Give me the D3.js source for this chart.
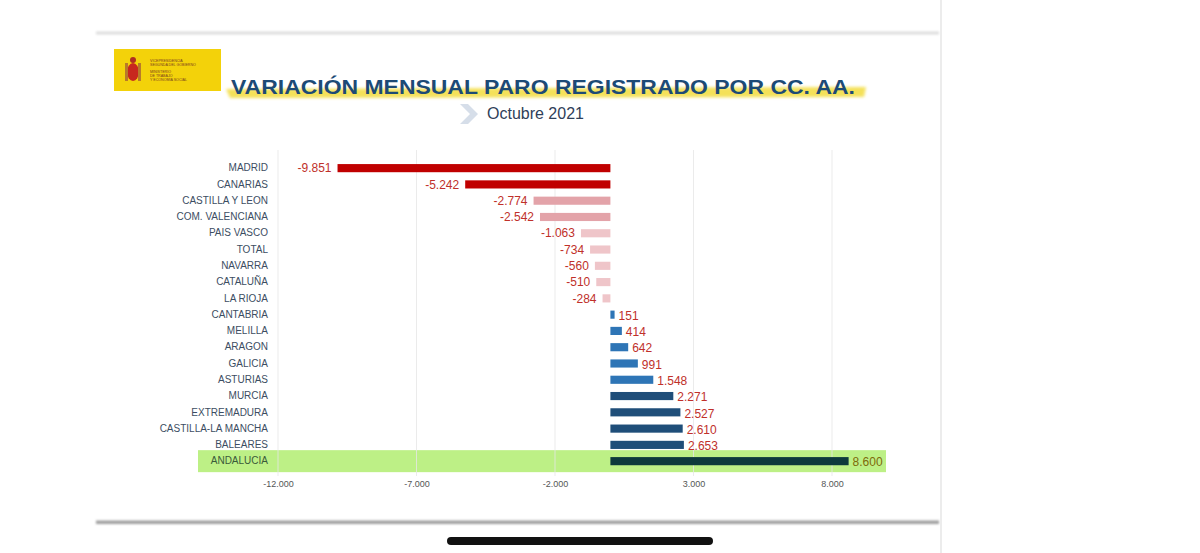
<!DOCTYPE html>
<html><head><meta charset="utf-8">
<script src="https://cdn.jsdelivr.net/npm/d3@7"></script>
<style>html,body{margin:0;padding:0;background:#fff;}svg{display:block;}</style>
</head><body>
<svg id="c" width="1200" height="553"></svg>
<script>
const categories = ["MADRID","CANARIAS","CASTILLA Y LEON","COM. VALENCIANA","PAIS VASCO","TOTAL","NAVARRA","CATALUÑA","LA RIOJA","CANTABRIA","MELILLA","ARAGON","GALICIA","ASTURIAS","MURCIA","EXTREMADURA","CASTILLA-LA MANCHA","BALEARES","ANDALUCIA"];
const values = [-9851,-5242,-2774,-2542,-1063,-734,-560,-510,-284,151,414,642,991,1548,2271,2527,2610,2653,8600];
const colorGroup = ["dred","dred","mpink","mpink","lpink","lpink","lpink","lpink","lpink","blue","blue","blue","blue","blue","navy","navy","navy","navy","dark"];
const tickValues = [-12000,-7000,-2000,3000,8000];
const tickLabels = ["-12.000","-7.000","-2.000","3.000","8.000"];
const title = "VARIACIÓN MENSUAL PARO REGISTRADO POR CC. AA.";
const subtitle = "Octubre 2021";
const highlight = "ANDALUCIA";

const palette = {dred:"#c00000", mpink:"#e3a3a9", lpink:"#efc5c9", blue:"#2e75b6", navy:"#1f4e79", dark:"#0e3a3c"};
const fmt = v => d3.format(",")(v).replace(/,/g,".").replace(/\u2212/g,"-");

const svg = d3.select("#c");
const defs = svg.append("defs");
const f = defs.append("filter").attr("id","blur").attr("x","-5%").attr("y","-50%").attr("width","110%").attr("height","200%");
f.append("feGaussianBlur").attr("stdDeviation",1.6);
const f2 = defs.append("filter").attr("id","blur2").attr("x","-5%").attr("y","-100%").attr("width","110%").attr("height","300%");
f2.append("feGaussianBlur").attr("stdDeviation",1.2);

// phone frame
svg.append("rect").attr("x",96).attr("y",31.5).attr("width",843).attr("height",3).attr("fill","#dedede").attr("filter","url(#blur2)");
svg.append("rect").attr("x",96).attr("y",520.5).attr("width",843).attr("height",3.5).attr("fill","#a0a0a0").attr("filter","url(#blur2)");
svg.append("rect").attr("x",940).attr("y",0).attr("width",2).attr("height",553).attr("fill","#ececec");
svg.append("rect").attr("x",447).attr("y",537).attr("width",266).attr("height",8).attr("rx",4).attr("fill","#111");

// logo
const logo = svg.append("g");
logo.append("rect").attr("x",114).attr("y",49).attr("width",107).attr("height",42).attr("fill","#f3d20a");
logo.append("ellipse").attr("cx",133).attr("cy",72).attr("rx",6).attr("ry",9).attr("fill","#c8281e");
logo.append("rect").attr("x",125).attr("y",63).attr("width",3).attr("height",18).attr("fill","#b87a2a");
logo.append("rect").attr("x",138).attr("y",63).attr("width",3).attr("height",18).attr("fill","#b87a2a");
logo.append("circle").attr("cx",133).attr("cy",60).attr("r",3).attr("fill","#b03020");
const tinyLines = [["VICEPRESIDENCIA",62],["SEGUNDA DEL GOBIERNO",66],["MINISTERIO",73],["DE TRABAJO",77],["Y ECONOMÍA SOCIAL",81]];
logo.selectAll("text.t").data(tinyLines).join("text").attr("x",150).attr("y",d=>d[1])
  .attr("font-family","Liberation Sans, Arial").attr("font-size",3.6).attr("fill","#7a3a20").text(d=>d[0]);

// title highlight
svg.append("path").attr("d","M226,89 L866,87 L864,97 L230,98 Z").attr("fill","#f3dc3c").attr("opacity",0.85).attr("filter","url(#blur)");
svg.append("text").attr("x",231).attr("y",93.5).attr("font-family","Liberation Sans, Arial").attr("font-weight","bold")
  .attr("font-size",21).attr("fill","#1c4a76").attr("textLength",624).attr("lengthAdjust","spacingAndGlyphs").text(title);
// chevron
svg.append("path").attr("d","M460,104 L468,104 L478,114 L468,124 L460,124 L470,114 Z").attr("fill","#d6dee9");
svg.append("text").attr("x",487).attr("y",119).attr("font-family","Liberation Sans, Arial").attr("font-size",16)
  .attr("fill","#2f4059").text(subtitle);

// scales
const x = d3.scaleLinear().domain([-12000,8000]).range([278,832]);
const y = d3.scaleBand().domain(categories).range([160,469.3]).paddingInner(0.5).paddingOuter(0.25);

// highlight band for Andalucia
svg.append("rect").attr("x",198).attr("y",y(highlight)+y.bandwidth()/2-11).attr("width",688).attr("height",22).attr("fill","#bdf086");

// gridlines
svg.append("g").selectAll("line").data(tickValues).join("line")
  .attr("x1",d=>x(d)).attr("x2",d=>x(d)).attr("y1",150).attr("y2",476)
  .attr("stroke","#e6e6e6").attr("stroke-opacity",0.8).attr("stroke-width",1);

// axis
const axis = d3.axisBottom(x).tickValues(tickValues).tickFormat((d,i)=>tickLabels[i]).tickSize(0).tickPadding(0);
const ax = svg.append("g").attr("transform","translate(0,481)").call(axis);
ax.select(".domain").remove();
ax.selectAll("text").attr("font-family","Liberation Sans, Arial").attr("font-size",9).attr("fill","#555").attr("dy","0.71em");

// category labels
const yAxis = d3.axisLeft(y).tickSize(0).tickPadding(0);
const ay = svg.append("g").attr("transform","translate(268,0)").call(yAxis);
ay.select(".domain").remove();
ay.selectAll("text").attr("font-family","Liberation Sans, Arial").attr("font-size",10)
  .attr("fill",d=>d===highlight?"#3a5a3a":"#3c4d62");

// bars
const data = categories.map((c,i)=>({c, v:values[i], g:colorGroup[i]}));
svg.append("g").selectAll("rect").data(data).join("rect")
  .attr("x",d=>x(Math.min(0,d.v))).attr("y",d=>y(d.c)).attr("width",d=>Math.abs(x(d.v)-x(0))).attr("height",y.bandwidth())
  .attr("fill",d=>palette[d.g]);

// value labels
svg.append("g").selectAll("text").data(data).join("text")
  .attr("x",d=>d.v<0 ? x(d.v)-6 : x(d.v)+4)
  .attr("y",d=>y(d.c)+y.bandwidth()/2+ (d.v>0?1:0))
  .attr("dy","0.35em")
  .attr("text-anchor",d=>d.v<0?"end":"start")
  .attr("font-family","Liberation Sans, Arial").attr("font-size",12)
  .attr("fill",d=>d.c===highlight?"#7d6a0a":"#c0302a")
  .text(d=>fmt(d.v));
</script>
</body></html>
